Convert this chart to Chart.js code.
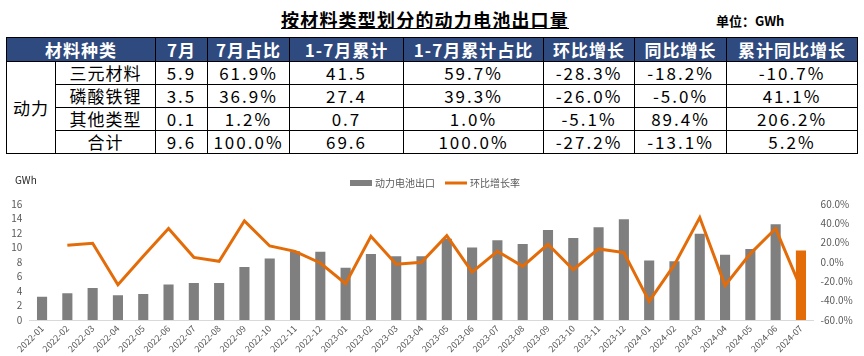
<!DOCTYPE html>
<html>
<head>
<meta charset="utf-8">
<script src="https://cdn.jsdelivr.net/npm/chart.js@4.4.1/dist/chart.umd.min.js"></script>
<style>
  html, body { margin:0; padding:0; background:#fff; }
  body { width:864px; height:356px; position:relative; overflow:hidden; font-family:"Noto Sans CJK SC","Noto Sans",sans-serif; }
  #title { position:absolute; left:281px; top:6px; font-size:18px; font-weight:bold; text-decoration:underline; color:#000; white-space:nowrap; letter-spacing:1.2px; }
  #unit { position:absolute; left:716px; top:11px; font-size:13px; font-weight:bold; color:#000; white-space:nowrap; }
  table { position:absolute; left:6px; top:37px; border-collapse:collapse; table-layout:fixed; width:851px; }
  td, th { border:1px solid #000; padding:0; text-align:center; font-size:17px; line-height:20px; white-space:nowrap; overflow:hidden; }
  th { background:#2F4A7E; color:#fff; font-weight:bold; height:23px; letter-spacing:1px; }
  td { height:22px; color:#000; }
  td.num { letter-spacing:2px; }
  #chart { position:absolute; left:0; top:160px; }
</style>
</head>
<body>
<div id="title">按材料类型划分的动力电池出口量</div>
<div id="unit">单位：GWh</div>
<table id="tbl"></table>
<canvas id="chart" width="864" height="196"></canvas>
<script>
// ---- table data ----
const tableHeaders = ['材料种类','7月','7月占比','1-7月累计','1-7月累计占比','环比增长','同比增长','累计同比增长'];
const colWidths = [49,100,52,82,114,140,91,92,131];
const groupName = '动力';
const rowNames = ['三元材料','磷酸铁锂','其他类型','合计'];
const julyVol = ['5.9','3.5','0.1','9.6'];
const julyShare = ['61.9%','36.9%','1.2%','100.0%'];
const ytdVol = ['41.5','27.4','0.7','69.6'];
const ytdShare = ['59.7%','39.3%','1.0%','100.0%'];
const momGrowth = ['-28.3%','-26.0%','-5.1%','-27.2%'];
const yoyGrowth = ['-18.2%','-5.0%','89.4%','-13.1%'];
const ytdYoy = ['-10.7%','41.1%','206.2%','5.2%'];

// ---- chart data ----
const months = ['2022-01','2022-02','2022-03','2022-04','2022-05','2022-06','2022-07','2022-08','2022-09','2022-10','2022-11','2022-12',
  '2023-01','2023-02','2023-03','2023-04','2023-05','2023-06','2023-07','2023-08','2023-09','2023-10','2023-11','2023-12',
  '2024-01','2024-02','2024-03','2024-04','2024-05','2024-06','2024-07'];
const exportVol = [3.2,3.7,4.4,3.4,3.6,4.9,5.1,5.1,7.3,8.5,9.5,9.4,
  7.2,9.1,8.8,8.8,11.2,10.0,11.0,10.5,12.4,11.3,12.8,13.9,
  8.2,8.1,11.9,9.0,9.8,13.2,9.6];
const momRate = [null,17.3,19.4,-23.5,5.9,34.6,4.8,0.7,42.6,16.6,11.0,-1.0,
  -22.5,26.6,-2.4,-0.3,27.3,-10.4,11.1,-4.5,18.3,-8.0,13.5,9.7,
  -40.8,-2.8,46.0,-24.2,8.7,34.6,-27.2];
const seriesNames = ['动力电池出口','环比增长率'];
const leftTicks = [0,2,4,6,8,10,12,14,16];
const rightTicks = [-60,-40,-20,0,20,40,60];

// ---- build table ----
(function(){
  const t = document.getElementById('tbl');
  let h = '<colgroup>' + colWidths.map(w => '<col style="width:'+w+'px">').join('') + '</colgroup>';
  h += '<tr><th colspan="2">'+tableHeaders[0]+'</th>' + tableHeaders.slice(1).map(x=>'<th>'+x+'</th>').join('') + '</tr>';
  for (let i=0;i<rowNames.length;i++){
    h += '<tr>';
    if (i===0) h += '<td rowspan="'+rowNames.length+'" style="letter-spacing:1px">'+groupName+'</td>';
    h += '<td style="letter-spacing:1px">'+rowNames[i]+'</td>';
    [julyVol,julyShare,ytdVol,ytdShare,momGrowth,yoyGrowth,ytdYoy].forEach(a=>{ h += '<td class="num">'+a[i]+'</td>'; });
    h += '</tr>';
  }
  t.innerHTML = h;
})();

// ---- chart ----
const GREY = '#7F7F7F';
const ORANGE = '#E36C09';
const barColors = exportVol.map((v,i)=> i===exportVol.length-1 ? ORANGE : GREY);
const FONT = '"Noto Sans CJK SC","Noto Sans",sans-serif';

const overlay = {
  id:'overlay',
  afterDraw(chart){
    const ctx = chart.ctx;
    ctx.save();
    ctx.font = '10px ' + FONT;
    ctx.textBaseline = 'middle';
    ctx.fillStyle = '#262626';
    ctx.fillText('GWh', 15, 20);
    const y = 23;
    ctx.fillStyle = GREY;
    ctx.fillRect(350, y-3, 22, 6);
    ctx.fillStyle = '#595959';
    ctx.fillText(seriesNames[0], 375, y);
    ctx.strokeStyle = ORANGE;
    ctx.lineWidth = 3;
    ctx.beginPath(); ctx.moveTo(445, y); ctx.lineTo(467, y); ctx.stroke();
    ctx.fillStyle = '#595959';
    ctx.fillText(seriesNames[1], 470, y);
    ctx.restore();
  }
};

new Chart(document.getElementById('chart'), {
  type:'bar',
  data:{
    labels: months,
    datasets:[
      { type:'line', label:seriesNames[1], data:momRate, yAxisID:'y1', borderColor:ORANGE, backgroundColor:ORANGE,
        borderWidth:3, pointRadius:0, tension:0, order:0, spanGaps:false },
      { type:'bar', label:seriesNames[0], data:exportVol, yAxisID:'y', backgroundColor:barColors,
        categoryPercentage:1, barPercentage:0.4, order:1 }
    ]
  },
  options:{
    responsive:false,
    animation:false,
    layout:{ padding:{ top:44, left:0, right:0, bottom:0 } },
    plugins:{ legend:{ display:false }, tooltip:{ enabled:false } },
    scales:{
      x:{
        offset:true,
        grid:{ display:false, drawTicks:false },
        border:{ display:true, color:'#D9D9D9', width:1 },
        ticks:{ color:'#595959', font:{ size:9, family:FONT }, minRotation:45, maxRotation:45, autoSkip:false, padding:3 },
        afterFit(s){ s.height = 36; }
      },
      y:{
        position:'left', min:0, max:16,
        grid:{ display:false, drawTicks:false },
        border:{ display:false },
        afterBuildTicks(s){ s.ticks = leftTicks.map(v=>({value:v})); },
        ticks:{ color:'#595959', font:{ size:10, family:FONT }, padding:7, autoSkip:false },
        afterFit(s){ s.width = 29.4; }
      },
      y1:{
        position:'right', min:-60, max:60,
        grid:{ display:false, drawTicks:false },
        border:{ display:false },
        afterBuildTicks(s){ s.ticks = rightTicks.map(v=>({value:v})); },
        ticks:{ color:'#595959', font:{ size:10, family:FONT }, padding:7, autoSkip:false, callback:(v)=> v.toFixed(1)+'%' },
        afterFit(s){ s.width = 50.4; }
      }
    }
  },
  plugins:[overlay]
});
</script>
</body>
</html>
